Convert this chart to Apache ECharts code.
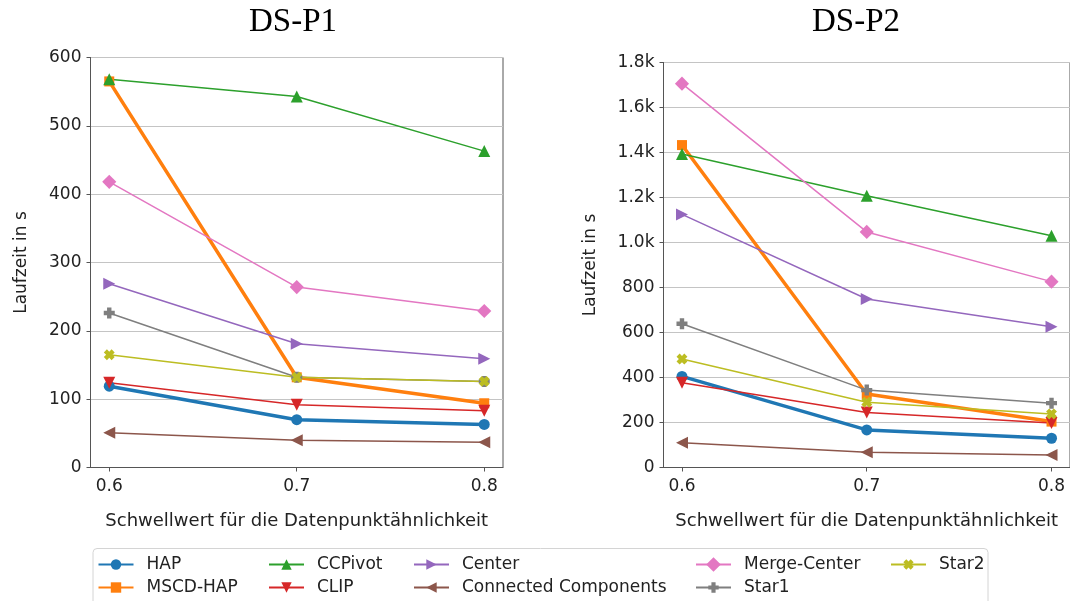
<!DOCTYPE html>
<html lang="de">
<head>
    <meta charset="UTF-8">
    <script src="https://cdn.jsdelivr.net/npm/echarts@6/dist/echarts.min.js"></script>
    <style>
        html, body { margin: 0; padding: 0; background: #fff; }
        #pic { width: 1070px; height: 601px; }
    </style>
    <title>Laufzeit</title>
</head>
<body>
<div id="pic"></div>
<script type="text/javascript">
    // Schwellwerte (x-Achse)
    var thresholds = [0.6, 0.7, 0.8];
    var seriesNames = ['HAP', 'MSCD-HAP', 'CCPivot', 'CLIP', 'Center',
        'Connected Components', 'Merge-Center', 'Star1', 'Star2'];

    // DS-P1, Laufzeit in s
    var hapP1 = [119, 70, 63];
    var mscdP1 = [565, 132, 94];
    var ccpivotP1 = [568, 543, 463];
    var clipP1 = [124, 92, 83];
    var centerP1 = [269, 181, 159];
    var connP1 = [51, 40, 37];
    var mergeP1 = [418, 264, 229];
    var star1P1 = [226, 132, 126];
    var star2P1 = [165, 132, 126];

    // DS-P2, Laufzeit in s
    var hapP2 = [405, 167, 130];
    var mscdP2 = [1433, 327, 204];
    var ccpivotP2 = [1393, 1208, 1030];
    var clipP2 = [377, 244, 198];
    var centerP2 = [1125, 749, 626];
    var connP2 = [110, 68, 56];
    var mergeP2 = [1706, 1047, 826];
    var star1P2 = [639, 344, 286];
    var star2P2 = [482, 290, 238];

    var xTicks = [0.6, 0.7, 0.8];
    var yTicksP1 = [0, 100, 200, 300, 400, 500, 600];
    var yTicksP2 = [0, 200, 400, 600, 800, 1000, 1200, 1400, 1600, 1800];

    var colors = ['#1f77b4', '#ff7f0e', '#2ca02c', '#d62728', '#9467bd',
        '#8c564b', '#e377c2', '#7f7f7f', '#bcbd22'];
    var plusPath = 'path://M3,0H7V3H10V7H7V10H3V7H0V3H3Z';
    // Marker je Verfahren: [symbol, groesse, drehung, linienbreite]
    var markers = [
        ['circle', 11, 0, 3.5],
        ['rect', 10, 0, 3.5],
        ['triangle', 12, 0, 1.5],
        ['triangle', 12, 180, 1.5],
        ['triangle', 12, -90, 1.5],
        ['triangle', 12, 90, 1.5],
        ['rect', 10, 45, 1.5],
        [plusPath, 11, 0, 1.5],
        [plusPath, 11, 45, 1.5]
    ];

    var valuesP1 = [hapP1, mscdP1, ccpivotP1, clipP1, centerP1, connP1, mergeP1, star1P1, star2P1];
    var valuesP2 = [hapP2, mscdP2, ccpivotP2, clipP2, centerP2, connP2, mergeP2, star1P2, star2P2];

    var font = 'DejaVu Sans';
    var axisColor = '#555';

    function pairs(vals) {
        return thresholds.map(function (t, i) { return [t, vals[i]]; });
    }

    function makeSeries(vals, idx) {
        return vals.map(function (v, i) {
            var m = markers[i];
            return {
                name: seriesNames[i],
                type: 'line',
                xAxisIndex: idx,
                yAxisIndex: idx,
                data: pairs(v),
                symbol: m[0],
                symbolSize: m[1],
                symbolRotate: m[2],
                showAllSymbol: true,
                animation: false,
                color: colors[i],
                lineStyle: {width: m[3], color: colors[i]},
                itemStyle: {color: colors[i]},
                emphasis: {disabled: true}
            };
        });
    }

    function xAxisCfg(idx) {
        return {
            type: 'value',
            gridIndex: idx,
            min: 0.59,
            max: 0.81,
            name: 'Schwellwert für die Datenpunktähnlichkeit',
            nameLocation: 'middle',
            nameGap: 45,
            nameTextStyle: {fontFamily: font, fontSize: 18, color: '#222'},
            axisLine: {show: true, lineStyle: {color: axisColor, width: 1}},
            axisTick: {show: true, length: 4, lineStyle: {color: axisColor}, customValues: xTicks},
            axisLabel: {fontFamily: font, fontSize: 17, color: '#222', margin: 11, customValues: xTicks,
                formatter: function (v) { return v.toFixed(1); }},
            splitLine: {show: false}
        };
    }

    function yAxisCfg(idx, ticks, fmt, gap) {
        return {
            type: 'value',
            gridIndex: idx,
            min: ticks[0],
            max: ticks[ticks.length - 1],
            interval: ticks[1] - ticks[0],
            name: 'Laufzeit in s',
            nameLocation: 'middle',
            nameGap: gap,
            nameTextStyle: {fontFamily: font, fontSize: 17, color: '#222'},
            axisLine: {show: true, lineStyle: {color: axisColor, width: 1}},
            axisTick: {show: true, length: 4, lineStyle: {color: axisColor}},
            axisLabel: {fontFamily: font, fontSize: 17, color: '#222', margin: 9, formatter: fmt},
            splitLine: {show: true, lineStyle: {color: '#c4c4c4', width: 1}}
        };
    }

    function kFormat(v) {
        return v >= 1000 ? (v / 1000).toFixed(1) + 'k' : String(v);
    }

    // Legende in fuenf Spalten
    var legendCols = [
        [97.5, ['HAP', 'MSCD-HAP']],
        [268, ['CCPivot', 'CLIP']],
        [413, ['Center', 'Connected Components']],
        [695, ['Merge-Center', 'Star1']],
        [890, ['Star2']]
    ];
    var legends = legendCols.map(function (c) {
        return {
            orient: 'vertical',
            left: c[0],
            top: 554.5,
            padding: 0,
            itemGap: 3,
            itemWidth: 35,
            itemHeight: 13,
            selectedMode: false,
            data: c[1],
            textStyle: {fontFamily: font, fontSize: 17, color: '#222', lineHeight: 20, padding: [0, 0, 0, 8]}
        };
    });

    var chart = echarts.init(document.getElementById('pic'), null, {renderer: 'canvas'});
    var option = {
        animation: false,
        title: [
            {text: 'DS-P1', left: 293, top: 6, textAlign: 'center', padding: 0,
                textStyle: {fontFamily: 'Liberation Serif', fontSize: 33, fontWeight: 'normal', color: '#000'}},
            {text: 'DS-P2', left: 856, top: 6, textAlign: 'center', padding: 0,
                textStyle: {fontFamily: 'Liberation Serif', fontSize: 33, fontWeight: 'normal', color: '#000'}}
        ],
        legend: legends,
        graphic: [{
            type: 'rect',
            silent: true,
            z: -1,
            shape: {x: 93, y: 548.5, width: 895, height: 70, r: 4},
            style: {fill: '#fff', stroke: '#d4d4d4', lineWidth: 1}
        }],
        grid: [
            {left: 90.5, top: 57.5, width: 412.5, height: 410, show: true, borderColor: axisColor, borderWidth: 1, containLabel: false},
            {left: 663.5, top: 62.5, width: 408.5, height: 405, show: true, borderColor: axisColor, borderWidth: 1, containLabel: false}
        ],
        xAxis: [xAxisCfg(0), xAxisCfg(1)],
        yAxis: [yAxisCfg(0, yTicksP1, null, 60), yAxisCfg(1, yTicksP2, kFormat, 64)],
        series: makeSeries(valuesP1, 0).concat(makeSeries(valuesP2, 1))
    };
    chart.setOption(option);
</script>
</body>
</html>
